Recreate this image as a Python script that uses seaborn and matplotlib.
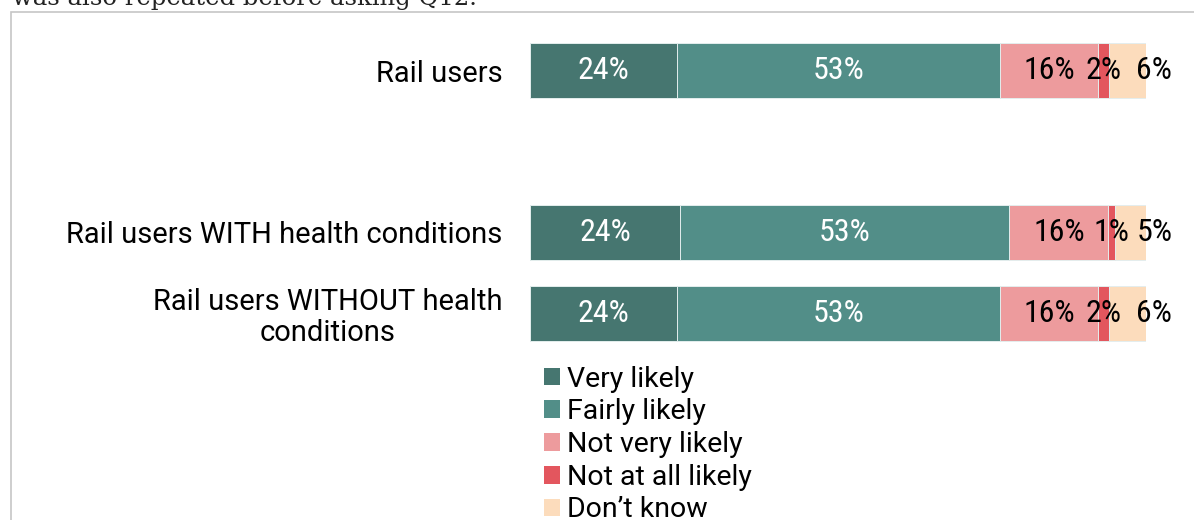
import matplotlib
matplotlib.use("Agg")
import matplotlib.pyplot as plt
import matplotlib.patches as mpatches
import seaborn as sns
import pandas as pd
import numpy as np
from matplotlib import font_manager as fm

categories = ["Rail users", "Rail users WITH health conditions",
              "Rail users WITHOUT health\nconditions"]
series = ["Very likely", "Fairly likely", "Not very likely", "Not at all likely", "Don’t know"]
very_likely = [23.9, 24.4, 23.9]
fairly_likely = [52.4, 53.4, 52.4]
not_very_likely = [15.9, 16.1, 15.9]
not_at_all_likely = [1.8, 1.1, 1.8]
dont_know = [6.0, 5.0, 6.0]
value_labels = [["24%", "53%", "16%", "2%", "6%"],
                ["24%", "53%", "16%", "1%", "5%"],
                ["24%", "53%", "16%", "2%", "6%"]]
colors = ["#467670", "#528e88", "#ed9b9d", "#e3565e", "#fcdcbc"]
label_colors = ["white", "white", "black", "black", "black"]

sns.set_style("white")
plt.rcParams["font.family"] = ["Roboto", "DejaVu Sans"]
plt.rcParams["text.color"] = "black"
plt.rcParams["ytick.color"] = "black"

available = {f.name for f in fm.fontManager.ttflist}
narrow = "Roboto"
for cand in ["Roboto Condensed", "Liberation Sans Narrow", "Arial Narrow"]:
    if cand in available:
        narrow = cand
        break

values = [very_likely, fairly_likely, not_very_likely, not_at_all_likely, dont_know]
df = pd.DataFrame({"category": categories})
for s, v in zip(series, values):
    df[s] = v
cum = df[series].cumsum(axis=1)
df_cum = pd.concat([df[["category"]], cum], axis=1)

order = [categories[0], " ", categories[1], categories[2]]

fig = plt.figure(figsize=(11.94, 5.2), dpi=100)
ax = fig.add_axes([530 / 1194, (520 - 353.5) / 520, (1146 - 530) / 1194, (353.5 - 30.5) / 520])

for i in reversed(range(len(series))):
    sns.barplot(data=df_cum, y="category", x=series[i], order=order, orient="h",
                color=colors[i], width=0.68, edgecolor="#e4eeee", linewidth=0.7,
                saturation=1, ax=ax)
if ax.get_legend() is not None:
    ax.get_legend().remove()

ax.set_xlim(0, 100)
ax.set_ylim(3.5, -0.5)
ax.set_xlabel("")
ax.set_ylabel("")
ax.set_xticks([])
for sp in ax.spines.values():
    sp.set_visible(False)
ax.tick_params(axis="y", length=0, pad=20, labelsize=21, labelcolor="black")
for lab in ax.get_yticklabels():
    lab.set_multialignment("center")
    lab.set_linespacing(1.15)

lab_size = 20 if narrow == "Roboto" else 23
pos = {c: order.index(c) for c in categories}
for r, c in enumerate(categories):
    left = 0
    for j in range(len(series)):
        v = values[j][r]
        if j == len(series) - 1:
            ax.annotate(value_labels[r][j], (left + v, pos[c]), xytext=(6, 0),
                        textcoords="offset points", ha="center", va="center",
                        fontsize=lab_size, family=[narrow, "DejaVu Sans"], color=label_colors[j])
        else:
            ax.annotate(value_labels[r][j], (left + v / 2, pos[c]), ha="center", va="center",
                        fontsize=lab_size, family=[narrow, "DejaVu Sans"], color=label_colors[j])
        left += v

handles = [mpatches.Patch(facecolor=colors[i], edgecolor="none", label=series[i])
           for i in range(len(series))]
fig.legend(handles=handles, loc="upper left", bbox_to_anchor=(538 / 1194, 1 - 360 / 520),
           frameon=False, fontsize=20.5, handlelength=0.58, handleheight=0.58,
           handletextpad=0.25, labelspacing=0.2, borderaxespad=0, borderpad=0.2)

# frame around the chart area
fig.patches.append(mpatches.Rectangle((10.5 / 1194, -0.2), 1.5, 1.2 - 11.5 / 520,
                                      transform=fig.transFigure, fill=False,
                                      edgecolor="#c6c6c6", linewidth=1.2))
fig.text(12 / 1194, 1 - 4.5 / 520, "was also repeated before asking Q12.", family="DejaVu Serif",
         fontsize=17.5, va="baseline", ha="left", color="#222222")

fig.savefig("out.png", dpi=100)
